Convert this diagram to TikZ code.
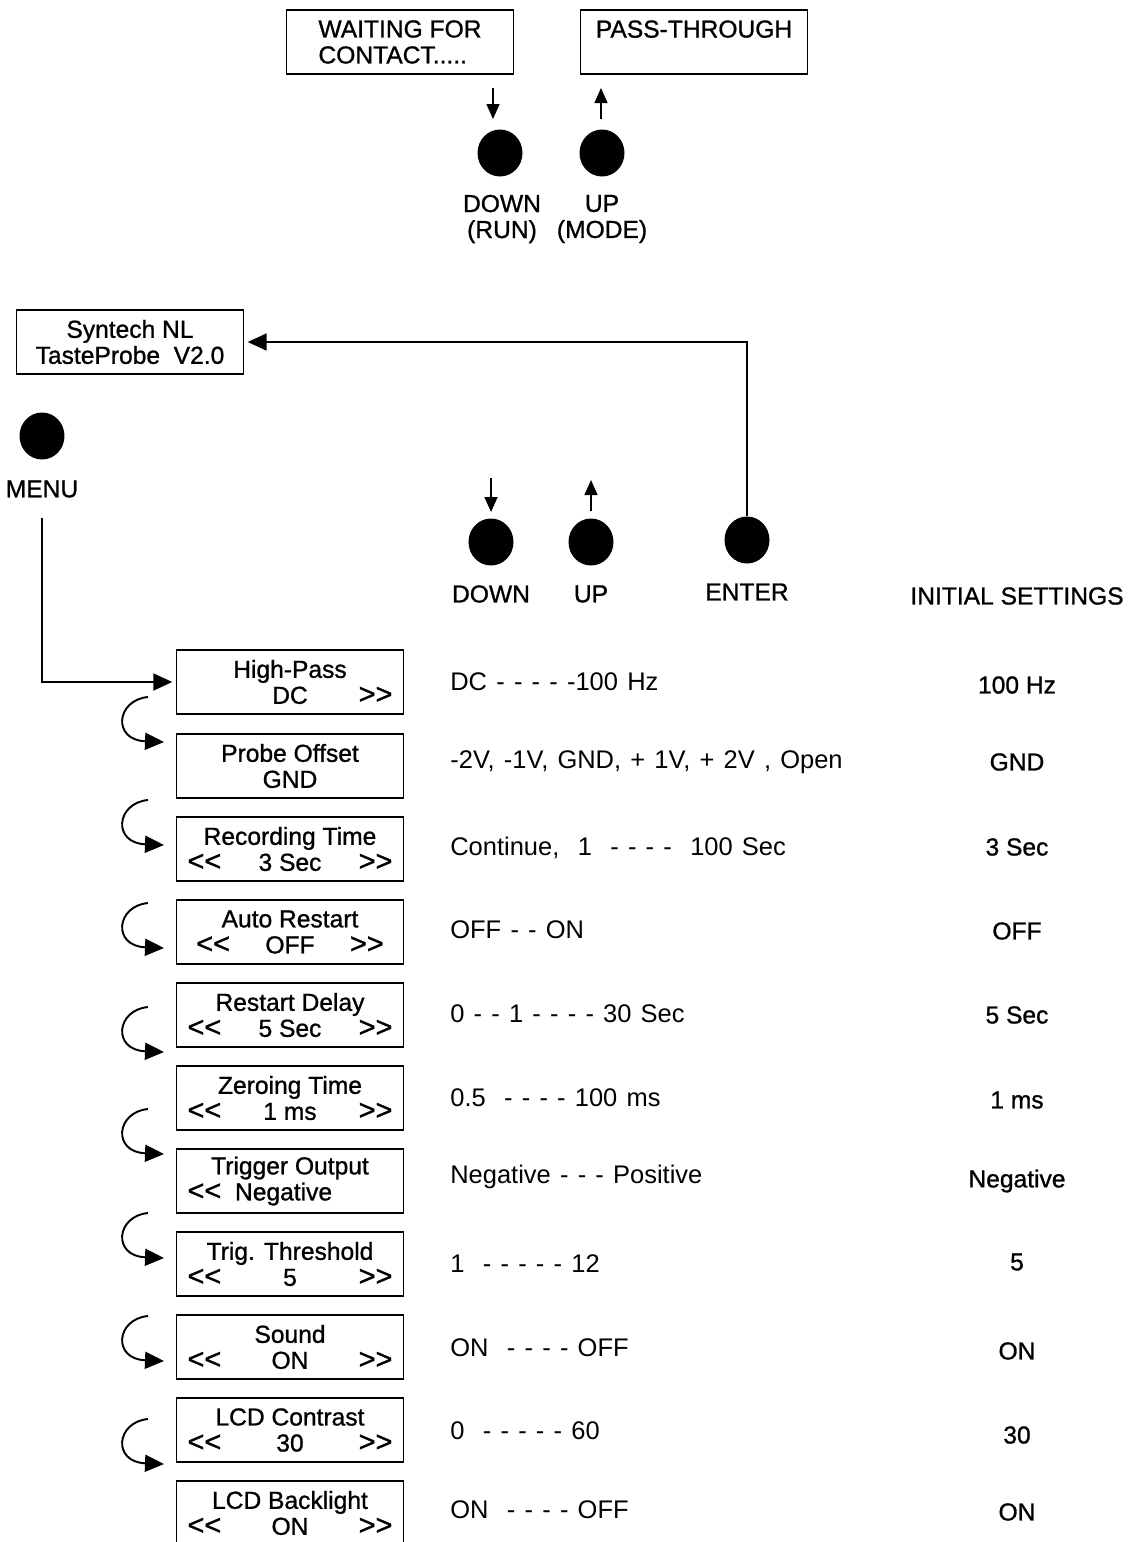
\documentclass[tikz,border=0pt]{standalone}
\usepackage{fontspec}
\setmainfont{Liberation Sans}
\newfontfamily\heavyfont{Liberation Sans}[FakeBold=1]
\newfontfamily\rangefont{Liberation Sans}[WordSpace=1.3]
\usetikzlibrary{arrows.meta,shapes.geometric}
\newcommand{\prevsym}{{\fontsize{16.5}{14.8}\selectfont<{}<}}
\newcommand{\nextsym}{{\fontsize{16.5}{14.8}\selectfont>{}>}}
\newcommand{\lcdrow}[2][4.1cm]{\makebox[#1]{\rlap{\prevsym}\hfill #2\hfill\llap{\nextsym}}}
\newcommand{\txtsize}{\fontsize{14}{14.8}\selectfont}

\begin{document}
\begin{tikzpicture}[x=0.02cm,y=-0.02cm,
    >={Triangle[length=0.38cm,width=0.34cm]},
    lcd/.style={draw,line width=0.8pt,minimum width=4.54cm,minimum height=1.28cm,
      inner sep=0pt,align=center,font=\heavyfont\txtsize},
    btn/.style={ellipse,fill=black,minimum width=0.9cm,minimum height=0.94cm,inner sep=0pt},
    lbl/.style={font=\heavyfont\txtsize,align=center,inner sep=0pt},
    rng/.style={anchor=west,inner sep=0pt,font=\rangefont\fontsize{14.5}{16}\selectfont},
    init/.style={inner sep=0pt,font=\heavyfont\txtsize},
    flow/.style={->,line width=1.1pt},
    push/.style={->,line width=0.9pt,>={Triangle[length=0.3cm,width=0.26cm]}}]
    \useasboundingbox (0,0) rectangle (1131,1542);

    % Run / mode screens
    \node[lcd,align=left] (wait) at (400,42) {WAITING FOR\\CONTACT.....};
    \node[lcd,align=left] (pass) at (694,42) {PASS-THROUGH\\\mbox{}};
    \node[btn] (btnrun) at (500,153) {};
    \node[btn] (btnmode) at (602,153) {};
    \node[lbl] (lrun) at (502,219) {DOWN\\(RUN)};
    \node[lbl] (lmode) at (602,219) {UP\\(MODE)};
    \coordinate (rdtop) at (493,88);
    \coordinate (rdbot) at (493,119);
    \coordinate (mubot) at (601,119);
    \coordinate (mutop) at (601,88);
    \draw[push] (rdtop) -- (rdbot);
    \draw[push] (mubot) -- (mutop);

    % Menu entry
    \node[lcd] (syn) at (130,342) {Syntech NL\\TasteProbe~~V2.0};
    \node[btn] (btnmenu) at (42,436) {};
    \node[lbl] (lmenu) at (42,489) {MENU};
    \coordinate (menustart) at (42,518);

    % Keys
    \node[btn] (btndown) at (491,542) {};
    \node[btn] (btnup) at (591,542) {};
    \node[btn] (btnenter) at (747,540) {};
    \node[lbl] (ldown) at (491,594) {DOWN};
    \node[lbl] (lup) at (591,594) {UP};
    \node[lbl] (lenter) at (747,592) {ENTER};
    \node[lbl] (linit) at (1017,596) {INITIAL SETTINGS};
    \coordinate (kdtop) at (491,478);
    \coordinate (kdbot) at (491,512);
    \coordinate (kubot) at (591,511);
    \coordinate (kutop) at (591,480);
    \draw[push] (kdtop) -- (kdbot);
    \draw[push] (kubot) -- (kutop);
    \draw[flow] (btnenter.north) |- ([xshift=2pt]syn.east);

    % Menu screens
    \node[lcd] (hp) at (290,682) {High-Pass\\\makebox[4.1cm]{\hfill DC\hfill\llap{\nextsym}}};
    \node[lcd] (off) at (290,766) {Probe Offset\\GND};
    \node[lcd] (rec) at (290,849) {Recording Time\\\lcdrow{3 Sec}};
    \node[lcd] (ars) at (290,932) {Auto Restart\\\lcdrow[3.75cm]{OFF}};
    \node[lcd] (rsd) at (290,1015) {Restart Delay\\\lcdrow{5 Sec}};
    \node[lcd] (zer) at (290,1098) {Zeroing Time\\\lcdrow{1 ms}};
    \node[lcd] (trg) at (290,1181) {Trigger Output\\\makebox[4.1cm][l]{\prevsym~~Negative}};
    \node[lcd] (thr) at (290,1264) {Trig. Threshold\\\lcdrow{5}};
    \node[lcd] (snd) at (290,1347) {Sound\\\lcdrow{ON}};
    \node[lcd] (con) at (290,1430) {LCD Contrast\\\lcdrow{30}};
    \node[lcd] (blt) at (290,1513) {LCD Backlight\\\lcdrow{ON}};
    \draw[flow] (menustart) |- ([xshift=-2pt]hp.west);

    % Scroll arrows
    \draw[flow] (148,697) .. controls (116,700) and (112,740) .. (164,742);
    \draw[flow] (148,800) .. controls (116,803) and (112,843) .. (164,845);
    \draw[flow] (148,903) .. controls (116,906) and (112,946) .. (164,948);
    \draw[flow] (148,1007) .. controls (116,1010) and (112,1050) .. (164,1052);
    \draw[flow] (148,1109) .. controls (116,1112) and (112,1152) .. (164,1154);
    \draw[flow] (148,1213) .. controls (116,1216) and (112,1256) .. (164,1258);
    \draw[flow] (148,1316) .. controls (116,1319) and (112,1359) .. (164,1361);
    \draw[flow] (148,1419) .. controls (116,1422) and (112,1462) .. (164,1464);

    % Ranges
    \node[rng] (rhp) at (450,682) {DC - - - - -100 Hz};
    \node[rng] (roff) at (450,762) {-2V, -1V, GND, + 1V, + 2V , Open};
    \node[rng] (rrec) at (450,848) {Continue,~ 1 ~- - - -~ 100 Sec};
    \node[rng] (rars) at (450,930) {OFF - - ON};
    \node[rng] (rrsd) at (450,1014) {0 - - 1 - - - - 30 Sec};
    \node[rng] (rzer) at (450,1098) {0.5 ~- - - - 100 ms};
    \node[rng] (rtrg) at (450,1177) {Negative - - - Positive};
    \node[rng] (rthr) at (450,1264) {1 ~- - - - - 12};
    \node[rng] (rsnd) at (450,1348) {ON ~- - - - OFF};
    \node[rng] (rcon) at (450,1431) {0 ~- - - - - 60};
    \node[rng] (rblt) at (450,1510) {ON ~- - - - OFF};

    % Initial settings
    \node[init] (ihp) at (1017,685) {100 Hz};
    \node[init] (ioff) at (1017,762) {GND};
    \node[init] (irec) at (1017,847) {3 Sec};
    \node[init] (iars) at (1017,931) {OFF};
    \node[init] (irsd) at (1017,1015) {5 Sec};
    \node[init] (izer) at (1017,1100) {1 ms};
    \node[init] (itrg) at (1017,1181) {Negative};
    \node[init] (ithr) at (1017,1262) {5};
    \node[init] (isnd) at (1017,1351) {ON};
    \node[init] (icon) at (1017,1435) {30};
    \node[init] (iblt) at (1017,1512) {ON};
\end{tikzpicture}
\end{document}
